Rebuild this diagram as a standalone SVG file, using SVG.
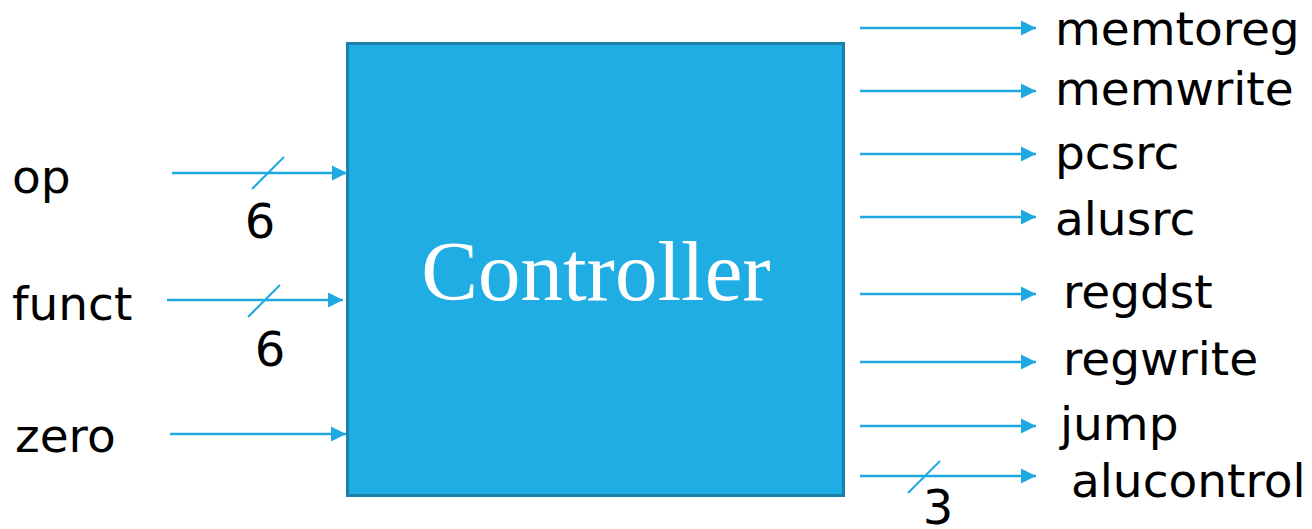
<svg xmlns="http://www.w3.org/2000/svg" width="1312" height="529" viewBox="0 0 1312 529">
<style>
.lbl{font-family:"DejaVu Sans",Verdana,sans-serif;font-size:47px;fill:#000}
.num{font-family:"DejaVu Sans",Verdana,sans-serif;font-size:48px;fill:#000;text-anchor:middle}
.wire{stroke:#1fa9e1;stroke-width:2.5;fill:none;marker-end:url(#ah)}
.slash{stroke:#1fa9e1;stroke-width:2;fill:none}
.title{font-family:"Liberation Serif","Times New Roman",serif;font-size:85px;fill:#fff;text-anchor:middle}
</style>
<defs>
<marker id="ah" markerUnits="userSpaceOnUse" markerWidth="16" markerHeight="16" viewBox="0 0 16 16" refX="15" refY="8" orient="auto">
<path d="M0,0.5 L15,8 L0,15.5 Z" fill="#1fa9e1"/>
</marker>
</defs>
<rect width="1312" height="529" fill="#fff"/>
<g id="controller">
<rect x="347.5" y="43.5" width="496" height="452" fill="#1fade3" stroke="#1a80a8" stroke-width="3"/>
<text class="title" x="596" y="300">Controller</text>
</g>
<g id="connectors">
<line class="wire" x1="172" y1="173" x2="347" y2="173"/>
<line class="slash" x1="252" y1="189" x2="284" y2="157"/>
<line class="wire" x1="167" y1="300" x2="343" y2="300"/>
<line class="slash" x1="248" y1="317" x2="280" y2="285"/>
<line class="wire" x1="170" y1="434" x2="346" y2="434"/>
<line class="wire" x1="860" y1="28" x2="1036" y2="28"/>
<line class="wire" x1="860" y1="91" x2="1036" y2="91"/>
<line class="wire" x1="860" y1="154" x2="1036" y2="154"/>
<line class="wire" x1="860" y1="217" x2="1036" y2="217"/>
<line class="wire" x1="860" y1="294" x2="1036" y2="294"/>
<line class="wire" x1="860" y1="362" x2="1036" y2="362"/>
<line class="wire" x1="860" y1="426" x2="1036" y2="426"/>
<line class="wire" x1="860" y1="476" x2="1036" y2="476"/>
<line class="slash" x1="908" y1="493" x2="940" y2="461"/>
</g>
<g id="inputs">
<text class="lbl" x="12" y="193">op</text>
<text class="num" x="260" y="238">6</text>
<text class="lbl" x="12" y="320">funct</text>
<text class="num" x="270" y="366">6</text>
<text class="lbl" x="15" y="452">zero</text>
</g>
<g id="outputs">
<text class="lbl" x="1055" y="45">memtoreg</text>
<text class="lbl" x="1055" y="105">memwrite</text>
<text class="lbl" x="1055" y="169">pcsrc</text>
<text class="lbl" x="1055" y="235">alusrc</text>
<text class="lbl" x="1063" y="308">regdst</text>
<text class="lbl" x="1063" y="375">regwrite</text>
<text class="lbl" x="1060" y="440">jump</text>
<text class="lbl" x="1071" y="497">alucontrol</text>
<text class="num" x="938" y="524">3</text>
</g>
</svg>
